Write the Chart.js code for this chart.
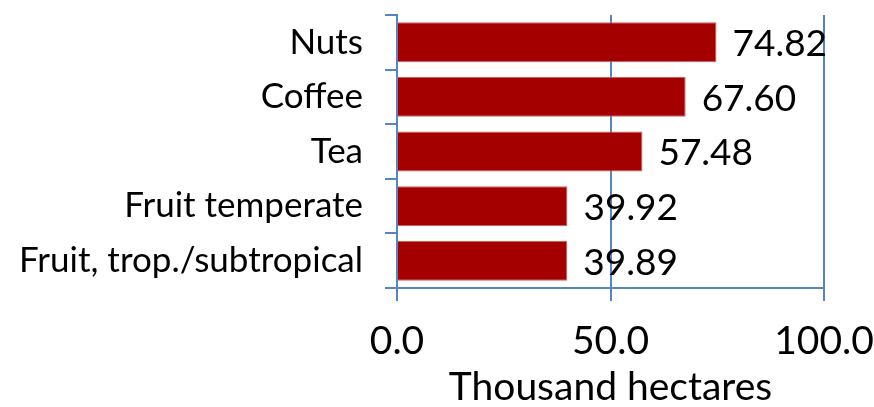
<!DOCTYPE html>
<html>
<head>
<meta charset="utf-8">
<script src="https://cdn.jsdelivr.net/npm/chart.js@4/dist/chart.umd.min.js"></script>
<style>
  html, body { margin: 0; padding: 0; background: #fff; }
  canvas { display: block; }
</style>
</head>
<body>
<canvas id="chart" width="874" height="407"></canvas>
<script>
// crop areas, thousand hectares
const categories = ['Nuts', 'Coffee', 'Tea', 'Fruit temperate', 'Fruit, trop./subtropical'];
const areaValues = [74.82, 67.60, 57.48, 39.92, 39.89];
const xTickLabels = ['0.0', '50.0', '100.0'];
const axisTitle = 'Thousand hectares';

const FONT = 'Lato, "Open Sans", sans-serif';
const gridBlue = '#5585C2';

// writes the value just past the end of each bar
const valueLabels = {
  id: 'valueLabels',
  afterDatasetsDraw(chart) {
    const ctx = chart.ctx;
    const meta = chart.getDatasetMeta(0);
    ctx.save();
    ctx.font = '37px ' + FONT;
    ctx.fillStyle = '#000';
    ctx.textAlign = 'left';
    ctx.textBaseline = 'middle';
    meta.data.forEach((bar, i) => {
      ctx.fillText(areaValues[i].toFixed(2), bar.x + 16, bar.y + 2);
    });
    ctx.restore();
  }
};

new Chart(document.getElementById('chart'), {
  type: 'bar',
  data: {
    labels: categories,
    datasets: [{
      data: areaValues,
      backgroundColor: '#A50000',
      borderColor: '#C86060',
      borderWidth: 1,
      categoryPercentage: 1,
      barPercentage: 0.73
    }]
  },
  options: {
    indexAxis: 'y',
    responsive: false,
    animation: false,
    layout: { padding: { top: 15, right: 50, bottom: 0, left: 0 } },
    plugins: {
      legend: { display: false },
      tooltip: { enabled: false }
    },
    scales: {
      x: {
        min: 0,
        max: 100,
        ticks: {
          stepSize: 50,
          color: '#000',
          font: { family: FONT, size: 39 },
          padding: 17,
          callback: (val, index) => xTickLabels[index]
        },
        grid: {
          color: gridBlue,
          lineWidth: 2,
          tickLength: 13
        },
        border: { color: gridBlue, width: 2 },
        title: {
          display: true,
          text: axisTitle,
          color: '#000',
          font: { family: FONT, size: 39 },
          padding: { top: 0, bottom: -4 }
        },
        afterFit(scale) {
          scale.height = 119;
          scale.paddingLeft = 0;
          scale.paddingRight = 0;
        }
      },
      y: {
        ticks: {
          color: '#000',
          font: { family: FONT, size: 35 },
          padding: 22
        },
        grid: {
          color: gridBlue,
          lineWidth: 2,
          drawOnChartArea: false,
          tickLength: 12
        },
        border: { color: gridBlue, width: 2 },
        afterFit(scale) {
          scale.width = 397;
          scale.paddingTop = 0;
          scale.paddingBottom = 0;
        }
      }
    }
  },
  plugins: [valueLabels]
});
</script>
</body>
</html>
